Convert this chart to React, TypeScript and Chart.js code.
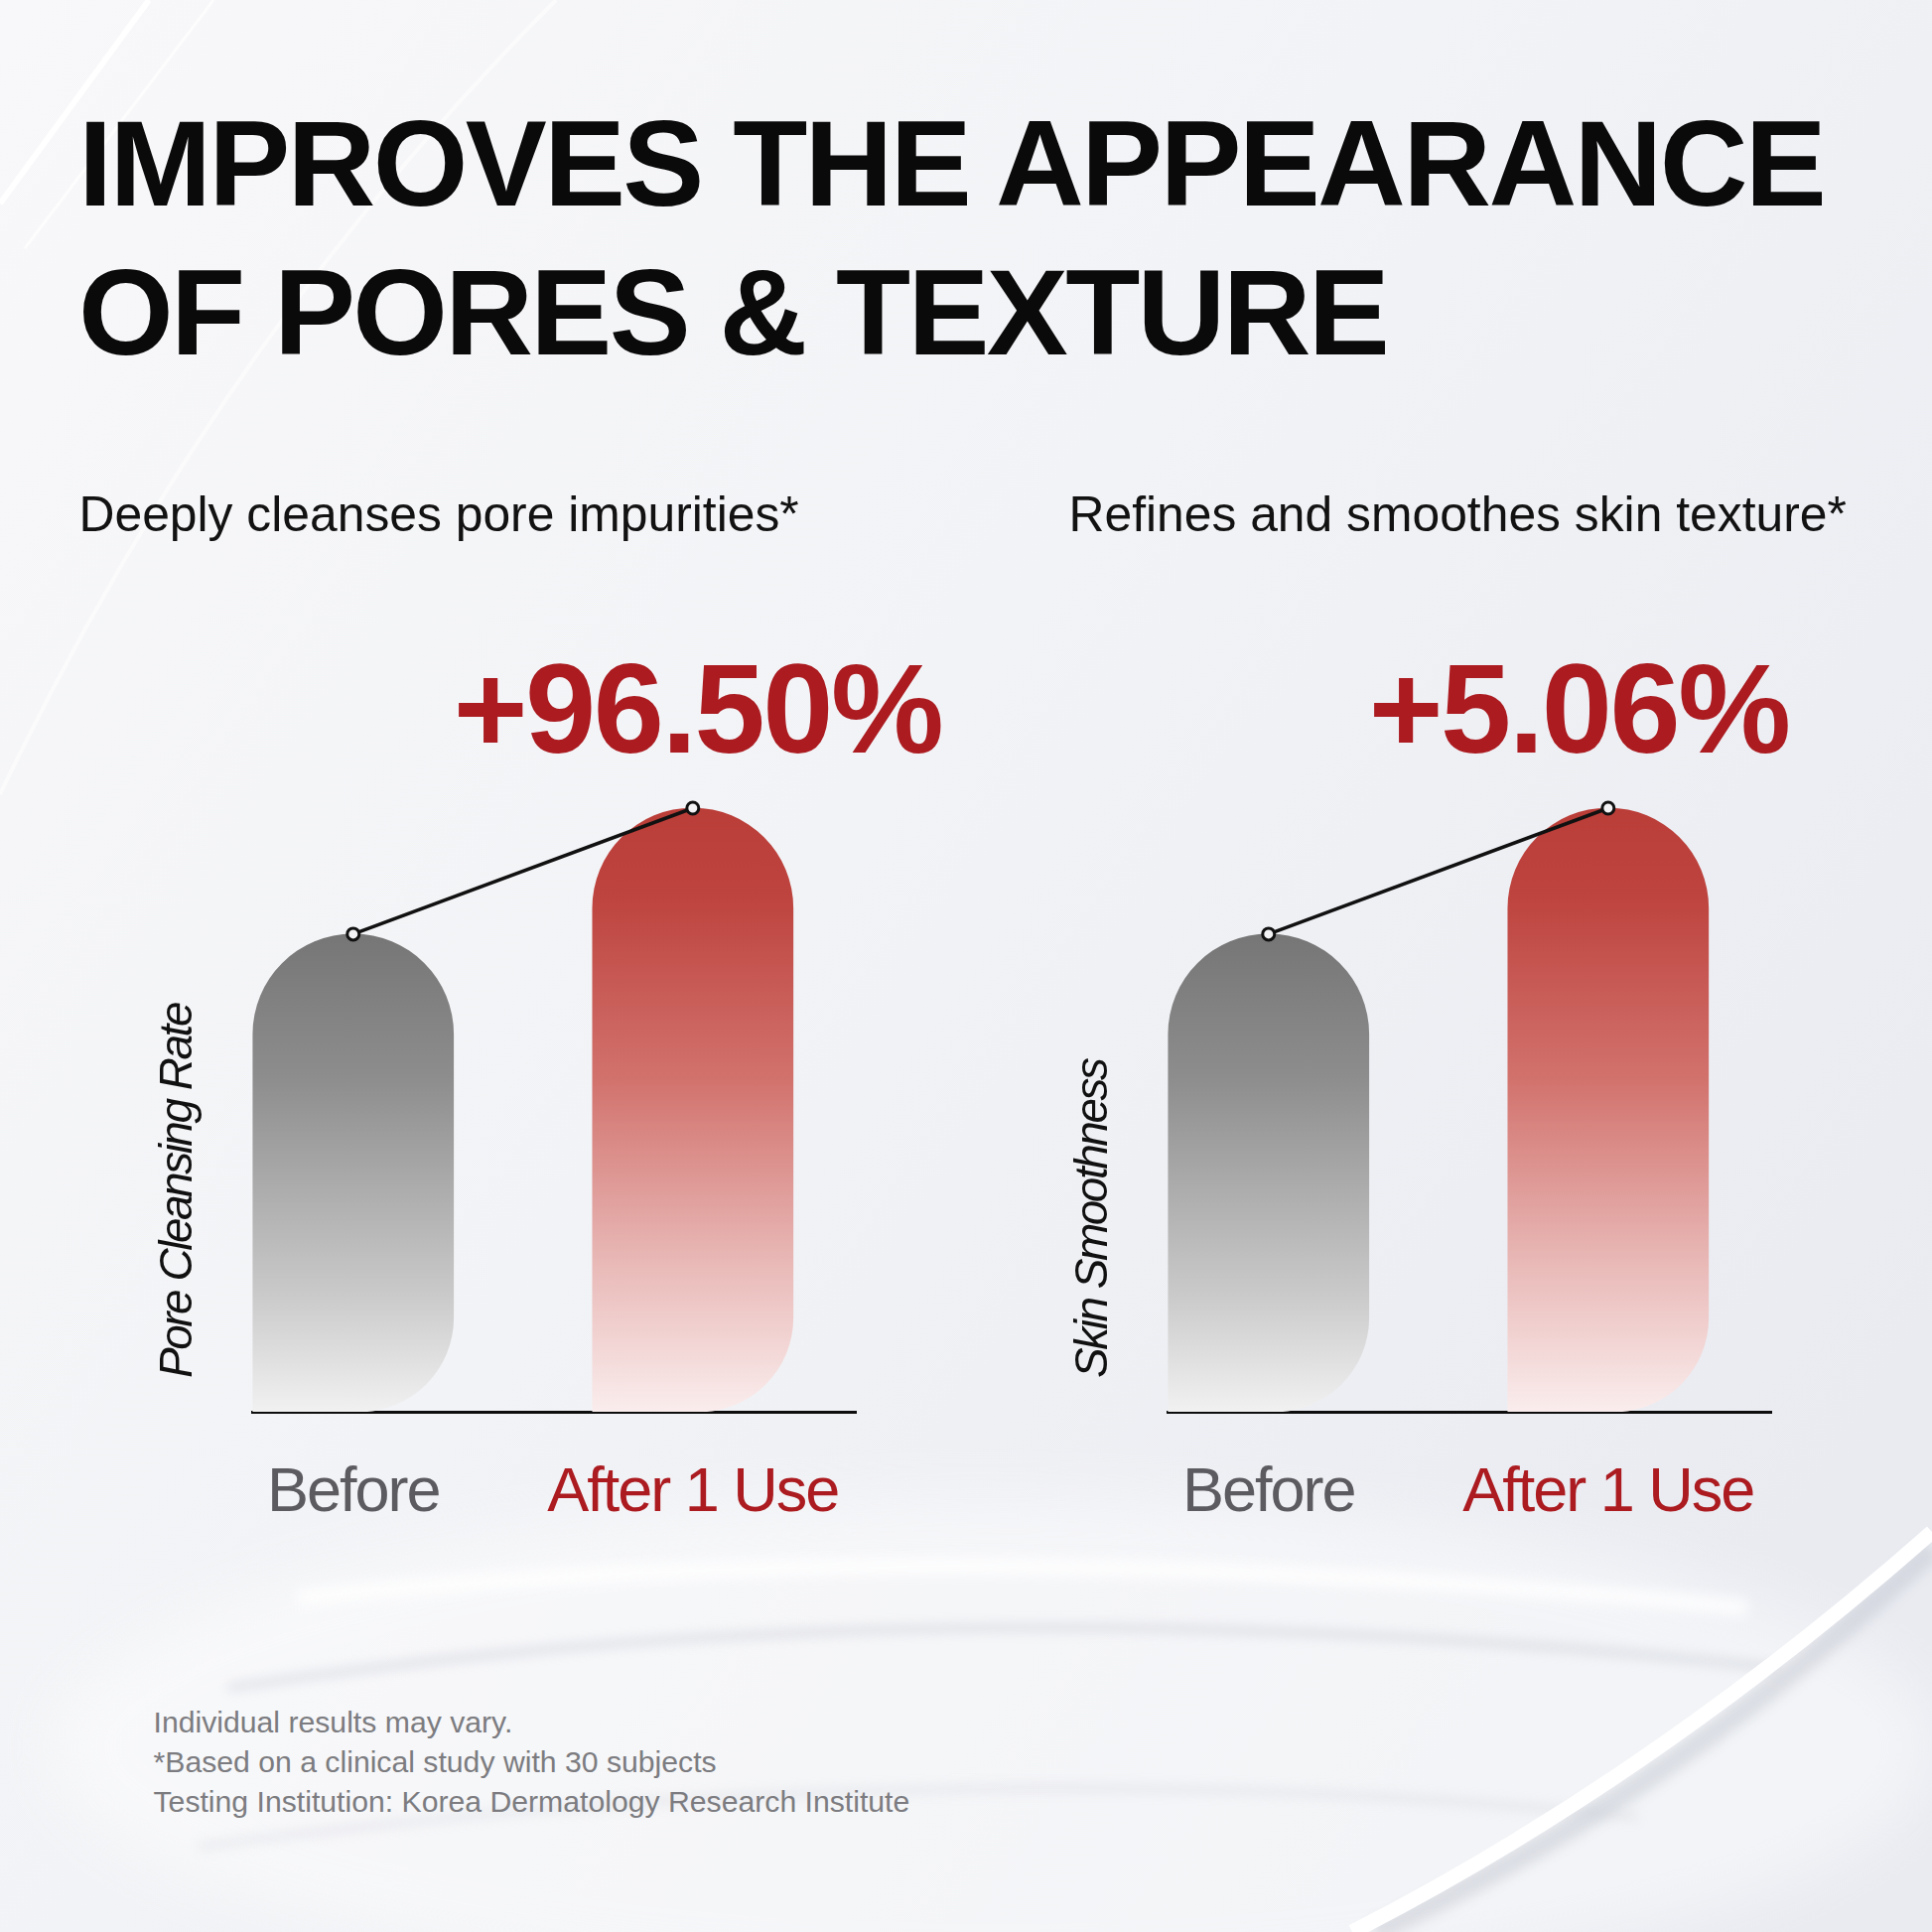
import React, { useEffect, useRef } from "react";
import { Chart, registerables } from "chart.js";

Chart.register(...registerables);

// ---------- data ----------
const categories = ["Before", "After 1 Use"];
const poreCleansingValues = [63.3, 80];
const skinSmoothnessValues = [63.3, 80];
const gainLabels = ["+96.50%", "+5.06%"];
const axisTitles = ["Pore Cleansing Rate", "Skin Smoothness"];
const subtitles = ["Deeply cleanses pore impurities*", "Refines and smoothes skin texture*"];
const titleLines = ["IMPROVES THE APPEARANCE", "OF PORES & TEXTURE"];
const footnotes = [
  "Individual results may vary.",
  "*Based on a clinical study with 30 subjects",
  "Testing Institution: Korea Dermatology Research Institute",
];

const FONT = '"Liberation Sans", Arial, Helvetica, sans-serif';
const RED_TEXT = "#AB1B20";
const GREY_TEXT = "#5c5c60";

const greyStops: [number, string][] = [
  [0, "#767676"],
  [0.3, "#8d8d8d"],
  [0.75, "#c9c9c9"],
  [1, "#f1f1f2"],
];
const redStops: [number, string][] = [
  [0, "#BA3D38"],
  [0.15, "#BE443F"],
  [0.45, "#D2726D"],
  [0.75, "#E8B8B6"],
  [1, "#FAEDED"],
];

function Panel({ left, top, values, gain, axisTitle }: { left: number; top: number; values: number[]; gain: string; axisTitle: string }) {
  const ref = useRef<HTMLCanvasElement | null>(null);
  useEffect(() => {
    const canvas = ref.current;
    if (!canvas) return;
    const points = values.map((v, i) => ({ x: i, y: v }));

    const barColor = (ctx: any) => {
      const stops = ctx.dataIndex === 0 ? greyStops : redStops;
      const chart = ctx.chart;
      if (!chart.chartArea || ctx.dataIndex == null || !chart.scales.y) return stops[1][1];
      const ys = chart.scales.y;
      const v = values[ctx.dataIndex];
      const t = ys.getPixelForValue(v);
      const b = ys.getPixelForValue(0);
      const g = chart.ctx.createLinearGradient(0, t, 0, b);
      stops.forEach(([o, c]) => g.addColorStop(o, c));
      return g;
    };

    const annotate = {
      id: "annotate",
      beforeDraw(chart: any) {
        chart.ctx.letterSpacing = "-2px";
      },
      afterDraw(chart: any) {
        const { ctx, chartArea } = chart;
        const meta = chart.getDatasetMeta(0);
        const el = meta.data[1];
        ctx.save();
        // gain label above the "after" bar
        ctx.letterSpacing = "-2.5px";
        ctx.font = `bold 128px ${FONT}`;
        ctx.fillStyle = RED_TEXT;
        ctx.textAlign = "left";
        ctx.textBaseline = "alphabetic";
        ctx.fillText(gain, el.x - 241, el.y - 56);
        // rotated axis title
        ctx.letterSpacing = "-2.5px";
        ctx.font = `italic 46px ${FONT}`;
        ctx.fillStyle = "#111111";
        ctx.translate(chartArea.left - 61, chartArea.bottom - 34);
        ctx.rotate(-Math.PI / 2);
        ctx.fillText(axisTitle, 0, 0);
        ctx.restore();
        ctx.letterSpacing = "0px";
      },
    };

    const chart = new Chart(canvas, {
      type: "bar",
      data: {
        datasets: [
          {
            type: "bar",
            data: points,
            order: 2,
            backgroundColor: barColor,
            borderWidth: 0,
            borderSkipped: false,
            borderRadius: { topLeft: 101, topRight: 101, bottomLeft: 0, bottomRight: 95 },
            barThickness: 202,
          } as any,
          {
            type: "line",
            data: points,
            order: 1,
            borderColor: "#111111",
            borderWidth: 3.5,
            tension: 0,
            pointRadius: 6,
            pointBorderWidth: 3,
            pointBorderColor: "#111111",
            pointBackgroundColor: "#f3f3f5",
          } as any,
        ],
      },
      options: {
        animation: false,
        responsive: false,
        events: [],
        layout: { padding: { left: 154, right: 98, top: 62, bottom: 28 } },
        plugins: { legend: { display: false }, tooltip: { enabled: false } },
        scales: {
          x: {
            type: "linear",
            min: -0.2975,
            max: 1.48,
            offset: false,
            grid: { display: false, drawTicks: false },
            border: { display: true, color: "#0d0d0d", width: 3 },
            ticks: {
              autoSkip: false,
              maxRotation: 0,
              padding: 45,
              font: { family: FONT, size: 63 },
              color: (c: any) => (c.index === 0 ? GREY_TEXT : RED_TEXT),
              callback: (_v: any, i: number) => categories[i] ?? "",
            },
            afterBuildTicks: (s: any) => {
              s.ticks = categories.map((_, i) => ({ value: i }));
            },
            afterFit: (s: any) => {
              s.height = 150;
            },
          },
          y: { display: false, min: 0, max: 100 },
        },
      } as any,
      plugins: [annotate],
    });
    chart.update();
    return () => chart.destroy();
  }, [values, gain, axisTitle]);

  return (
    <canvas
      ref={ref}
      width={860}
      height={1000}
      style={{ position: "absolute", left, top, width: 860, height: 1000 }}
    />
  );
}

function Background() {
  return (
    <svg width={1946} height={1946} style={{ position: "absolute", left: 0, top: 0 }}>
      <defs>
        <linearGradient id="bgBase" x1="0" y1="0" x2="1" y2="0.7">
          <stop offset="0" stopColor="#f8f8fa" />
          <stop offset="0.5" stopColor="#f2f3f6" />
          <stop offset="1" stopColor="#e9ebf1" />
        </linearGradient>
        <filter id="soft" x="-20%" y="-50%" width="140%" height="200%">
          <feGaussianBlur stdDeviation="6" />
        </filter>
        <filter id="softer" x="-20%" y="-50%" width="140%" height="200%">
          <feGaussianBlur stdDeviation="30" />
        </filter>
      </defs>
      <rect width="1946" height="1946" fill="url(#bgBase)" />
      <ellipse cx="1000" cy="1760" rx="950" ry="250" fill="#ffffff" opacity="0.45" filter="url(#softer)" />
      <path d="M 0 205 L 150 0" stroke="#ffffff" strokeWidth="6" fill="none" opacity="0.9" />
      <path d="M 25 250 L 215 0" stroke="#ffffff" strokeWidth="3" fill="none" opacity="0.7" />
      <path d="M 0 800 Q 220 340 560 0" stroke="#ffffff" strokeWidth="4" fill="none" opacity="0.55" />
      <path d="M 300 1610 Q 960 1540 1760 1620" stroke="#ffffff" strokeWidth="18" fill="none" opacity="0.75" filter="url(#soft)" />
      <path d="M 230 1700 Q 950 1590 1790 1680" stroke="#b3b7c3" strokeWidth="8" fill="none" opacity="0.35" filter="url(#soft)" />
      <path d="M 200 1860 Q 950 1760 1650 1830" stroke="#bfc2cd" strokeWidth="8" fill="none" opacity="0.25" filter="url(#soft)" />
      <path d="M 1946 1560 Q 1690 1805 1385 1946" stroke="#bfc3cd" strokeWidth="22" fill="none" opacity="0.45" filter="url(#soft)" />
      <path d="M 1946 1543 Q 1666 1790 1362 1946" stroke="#ffffff" strokeWidth="15" fill="none" opacity="0.98" />
    </svg>
  );
}

export default function App() {
  useEffect(() => {
    document.body.style.margin = "0";
    document.body.style.overflow = "hidden";
  }, []);
  const panelLefts = [100, 1022];
  const subtitleLefts = [79.5, 1076.5];
  const series = [poreCleansingValues, skinSmoothnessValues];
  return (
    <div style={{ position: "absolute", left: 0, top: 0, width: 1946, height: 1946, overflow: "hidden", fontFamily: FONT }}>
      <Background />
      <div
        style={{
          position: "absolute",
          left: 79,
          top: 90,
          fontWeight: 700,
          fontSize: 123,
          letterSpacing: "-2.7px",
          lineHeight: "150px",
          color: "#0a0a0a",
          whiteSpace: "nowrap",
        }}
      >
        {titleLines.map((l) => (
          <div key={l}>{l}</div>
        ))}
      </div>
      {subtitles.map((s, i) => (
        <div
          key={s}
          style={{ position: "absolute", left: subtitleLefts[i], top: 494, fontSize: 49.8, lineHeight: 1, color: "#121212", whiteSpace: "nowrap" }}
        >
          {s}
        </div>
      ))}
      {series.map((vals, i) => (
        <Panel key={i} left={panelLefts[i]} top={600} values={vals} gain={gainLabels[i]} axisTitle={axisTitles[i]} />
      ))}
      <div style={{ position: "absolute", left: 154.5, top: 1715, fontSize: 30.2, lineHeight: "40px", color: "#7c7c80", whiteSpace: "nowrap" }}>
        {footnotes.map((f) => (
          <div key={f}>{f}</div>
        ))}
      </div>
    </div>
  );
}
